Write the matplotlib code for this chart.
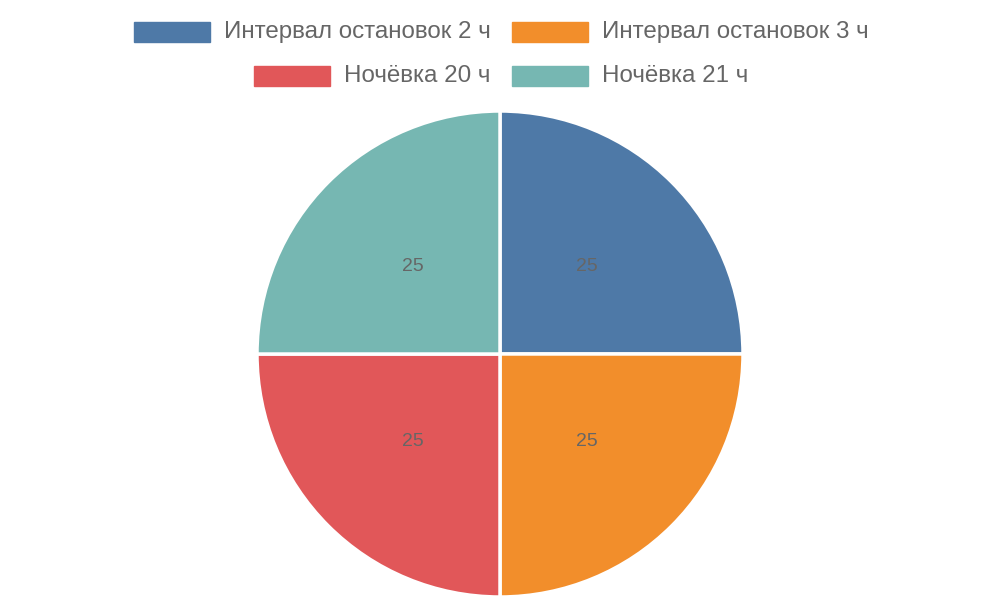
import matplotlib
matplotlib.use("Agg")
import matplotlib.pyplot as plt
from matplotlib.patches import Rectangle

labels = ["Интервал остановок 2 ч", "Интервал остановок 3 ч", "Ночёвка 20 ч", "Ночёвка 21 ч"]
values = [25, 25, 25, 25]
colors = ["#4e79a7", "#f28e2b", "#e15759", "#76b7b2"]

plt.rcParams['font.family'] = ['Liberation Sans', 'DejaVu Sans']
fig = plt.figure(figsize=(10, 6), dpi=100)
ax = fig.add_axes([0.257, 0.005, 0.486, 0.81])
ax.pie(values, colors=colors, startangle=90, counterclock=False,
       autopct=lambda p: f"{p:.0f}", pctdistance=0.507,
       wedgeprops=dict(edgecolor="white", linewidth=2.5),
       textprops=dict(color="#666666", fontsize=14))
ax.set_aspect("equal")
ax.set_xlim(-1.0, 1.0)
ax.set_ylim(-1.0, 1.0)

# legend (pixel positions, top-left origin)
entries = [(134, 224, 32), (512, 602, 32), (254, 344, 76), (512, 602, 76)]
for (bx, tx, cy), lab, c in zip(entries, labels, colors):
    fig.patches.append(Rectangle((bx / 1000, (600 - cy - 10) / 600), 76 / 1000, 20 / 600,
                                 transform=fig.transFigure, color=c))
    fig.text(tx / 1000, (600 - cy) / 600, lab, va="center", ha="left",
             fontsize=17.4, color="#666666")

fig.savefig("out.png", dpi=100)
